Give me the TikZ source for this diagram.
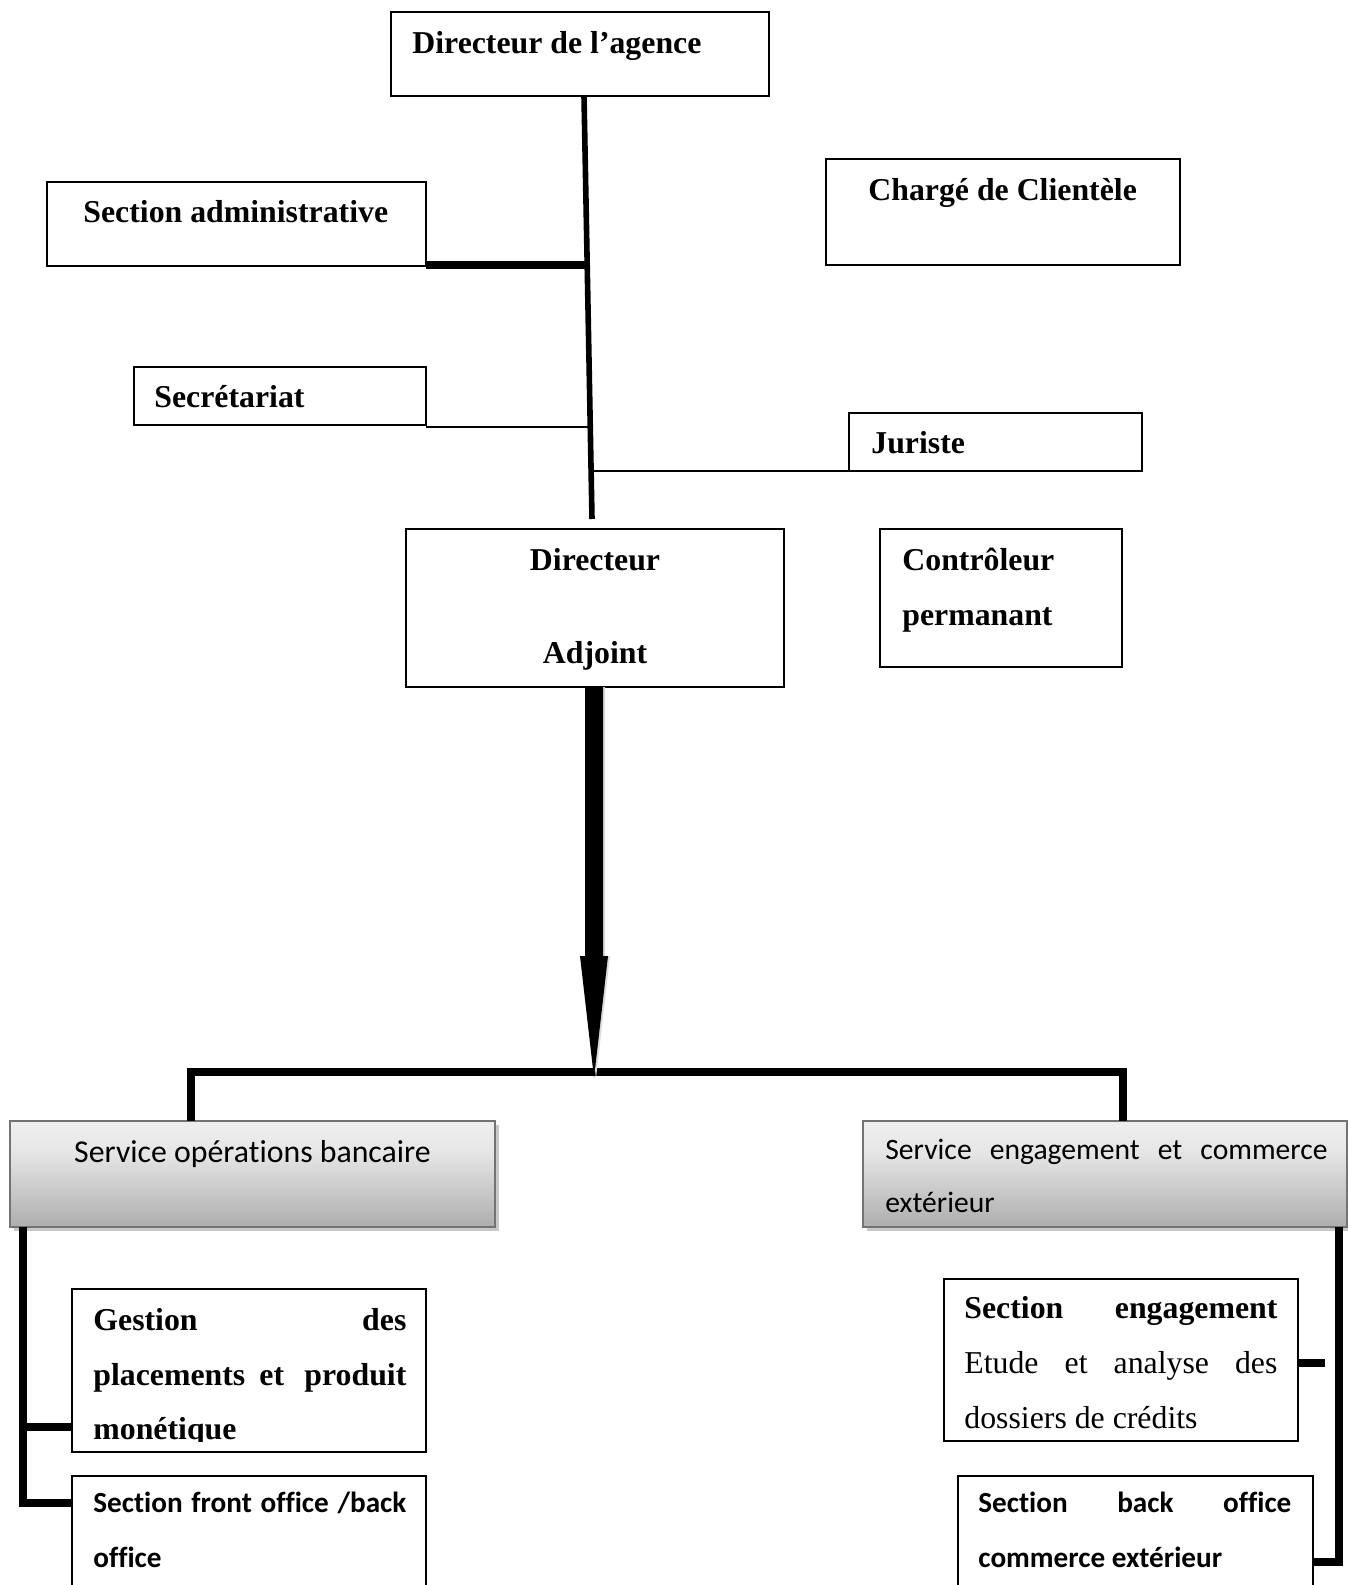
\documentclass[tikz,border=0pt]{standalone}
\usepackage{fontspec}
\setmainfont{Liberation Serif}
\newfontfamily\calfont[Ligatures=NoCommon]{Carlito}
\usetikzlibrary{shadows}
\pgfdeclareverticalshading{svcshade}{100bp}{color(0bp)=(black!42); color(25bp)=(black!32); color(60bp)=(black!10); color(100bp)=(white)}
\begin{document}
\begin{tikzpicture}[x=0.5pt,y=-0.5pt,
  box/.style={draw, line width=0.9pt, anchor=north west, inner sep=0pt, outer sep=0pt},
  svc/.style={draw=black!55, line width=1pt, anchor=north west, inner sep=0pt, outer sep=0pt, shading=svcshade,
    drop shadow={shadow xshift=2pt, shadow yshift=-2pt, fill=black!30, opacity=0.7}},
  tb/.style={font=\fontsize{15.9}{19}\selectfont\bfseries, inner sep=0pt, anchor=base west},
  tbc/.style={tb, anchor=base},
  tr/.style={font=\fontsize{15.9}{19}\selectfont, inner sep=0pt, anchor=base west},
  cr/.style={font=\calfont\fontsize{15.9}{19}\selectfont, inner sep=0pt, anchor=base west},
  crs/.style={font=\calfont\fontsize{14.8}{18}\selectfont, inner sep=0pt, anchor=base west},
  cb/.style={font=\calfont\fontsize{14.6}{18}\selectfont\bfseries, inner sep=0pt, anchor=base west},
  mainln/.style={line width=2.8pt},
  thinln/.style={line width=1.1pt},
  heavy/.style={line width=4pt, line join=miter},
  arrowshadow/.style={fill=black!14},
  arrowbody/.style={fill=black}
]
\clip (0,0) rectangle (1348,1585);
\fill[white] (0,0) rectangle (1348,1585);

% top level
\node[box, minimum width=189pt, minimum height=42pt] (dir) at (391,12) {};
\node[tb] (dirT) at (412,53) {Directeur de l’agence};
\node[box, minimum width=189.5pt, minimum height=42pt] (admin) at (47,182) {};
\node[tb] (adminT) at (83,222) {Section administrative};
\node[box, minimum width=177pt, minimum height=53pt] (charge) at (826,159) {};
\node[tb] (chargeT) at (868,200) {Chargé de Clientèle};
\node[box, minimum width=146pt, minimum height=29pt] (secr) at (134,367) {};
\node[tb] (secrT) at (154,407) {Secrétariat};
\node[box, minimum width=146.5pt, minimum height=29pt] (jur) at (849,413) {};
\node[tb] (jurT) at (871,453) {Juriste};
\node[box, minimum width=189pt, minimum height=79pt] (adj) at (406,529) {};
\node[tbc] (adjT1) at (595,570) {Directeur};
\node[tbc] (adjT2) at (595,663) {Adjoint};
\node[box, minimum width=121pt, minimum height=69pt] (ctrl) at (880,529) {};
\node[tb] (ctrlT1) at (902,570) {Contrôleur};
\node[tb] (ctrlT2) at (902,625) {permanant};

% services
\node[svc, minimum width=242.5pt, minimum height=53pt] (sob) at (10,1121) {};
\node[cr, anchor=base] (sobT) at (252.5,1162) {Service opérations bancaire};
\node[svc, minimum width=242pt, minimum height=53pt] (sec) at (863,1121) {};
\node[crs] (secT1) at (885,1159) {\makebox[221pt][l]{Service \hfill engagement \hfill et \hfill commerce}};
\node[crs] (secT2) at (885,1212) {extérieur};

% sections left
\node[box, minimum width=177pt, minimum height=81.5pt] (gest) at (72,1289) {};
\begin{scope}
\clip (gest.north west) rectangle ([yshift=5.5pt]gest.south east);
\node[tb] (gestT1) at (93,1330) {\makebox[156.5pt][l]{Gestion\hfill des}};
\node[tb] (gestT2) at (93,1385) {\makebox[156.5pt][l]{placements \hfill et \hfill\hfill produit}};
\node[tb] (gestT3) at (93,1439) {monétique};
\end{scope}
\node[box, minimum width=177pt, minimum height=70pt] (front) at (72,1476) {};
\node[cb] (frontT1) at (93,1512) {\makebox[156.5pt][l]{Section \hfill front \hfill office \hfill /back}};
\node[cb] (frontT2) at (93,1567) {office};

% sections right
\node[box, minimum width=177pt, minimum height=81pt] (seng) at (944,1279) {};
\node[tb] (sengT1) at (964,1318) {\makebox[156.5pt][l]{Section\hfill engagement}};
\node[tr] (sengT2) at (964,1373) {\makebox[156.5pt][l]{Etude \hfill et \hfill analyse \hfill des}};
\node[tr] (sengT3) at (964,1428) {dossiers de crédits};
\node[box, minimum width=177.5pt, minimum height=70pt] (sbo) at (958,1476) {};
\node[cb] (sboT1) at (978,1512) {\makebox[156.5pt][l]{Section\hfill back\hfill office}};
\node[cb] (sboT2) at (978,1567) {commerce extérieur};

% connectors
\coordinate (ma) at (587.5,264.5);
\coordinate (ms) at (590,427);
\coordinate (mj) at (591,471);
\coordinate (mend) at (592,519);
\coordinate (hs) at (594,956);
\coordinate (tip) at (594,1078);

\draw[mainln] ([xshift=2pt]dir.south) -- (mend);
\draw[heavy] (admin.south east |- ma) -- (ma);
\draw[thinln] (secr.south east |- ms) -- (ms);
\draw[thinln] (jur.south west) -- (mj);

\draw[heavy] ([xshift=90.5pt]sob.north west) -- ++(0,-49) -| ([xshift=130pt]sec.north west);

% big arrow from Directeur Adjoint down to the bus
\fill[arrowshadow] ([xshift=-4pt]adj.south) -- ([xshift=5pt]adj.south)
  -- ([xshift=5pt]adj.south |- hs) -- ([xshift=7.5pt]adj.south |- hs)
  -- ([xshift=0.5pt]adj.south |- tip) -- ([xshift=-6.5pt]adj.south |- hs)
  -- ([xshift=-4pt]adj.south |- hs) -- cycle;
\fill[arrowbody] ([xshift=-5pt]adj.south) -- ([xshift=4pt]adj.south)
  -- ([xshift=4pt]adj.south |- hs) -- ([xshift=6.5pt]adj.south |- hs)
  -- ([xshift=-0.5pt]adj.south |- tip) -- ([xshift=-7.5pt]adj.south |- hs)
  -- ([xshift=-5pt]adj.south |- hs) -- cycle;

\draw[heavy] ([xshift=6.5pt]sob.south west) |- ([yshift=-13.5pt]front.north west);
\draw[heavy] ([yshift=12.5pt]gest.south west) -- ++(-49,0);
\draw[heavy] ([xshift=-4pt]sec.south east) |- ([yshift=-43pt]sbo.north east);
\draw[heavy] ([yshift=-1.5pt]seng.east) -- ++(27,0);
\end{tikzpicture}
\end{document}
